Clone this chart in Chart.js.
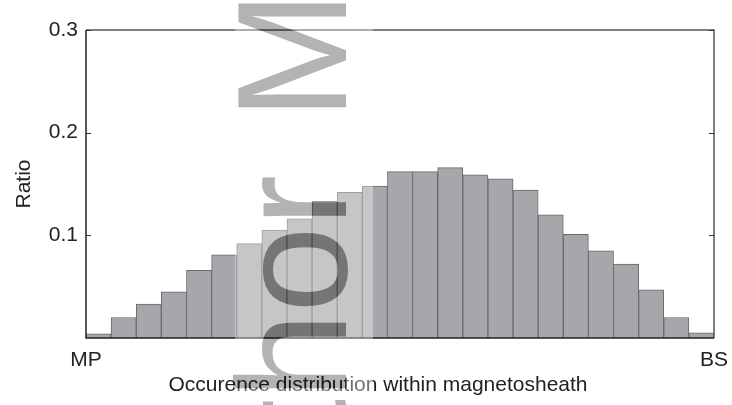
<!DOCTYPE html>
<html>
<head>
<meta charset="utf-8">
<script src="https://cdn.jsdelivr.net/npm/chart.js@4.4.1/dist/chart.umd.min.js"></script>
<style>
  html, body { margin: 0; padding: 0; background: #fff; }
  canvas { display: block; }
</style>
</head>
<body>
<canvas id="hist" width="732" height="405"></canvas>
<script>
// 25 bins from magnetopause (MP) to bow shock (BS)
const binLabels = ["1", "2", "3", "4", "5", "6", "7", "8", "9", "10", "11", "12", "13",
    "14", "15", "16", "17", "18", "19", "20", "21", "22", "23", "24", "25"];
const ratioValues = [0.004, 0.020, 0.033, 0.045, 0.066, 0.081, 0.092, 0.105, 0.116, 0.133,
    0.142, 0.148, 0.162, 0.162, 0.166, 0.159, 0.155, 0.144, 0.120, 0.101, 0.085, 0.072,
    0.047, 0.020, 0.005];
const edgeLabels = ["MP", "BS"];
const yTickValues = [0.1, 0.2, 0.3];
const xTitle = "Occurence distribution within magnetosheath";
const yTitle = "Ratio";

const FONT = "Liberation Sans";

// watermark: "Author Manuscript" running up the page, lightens what it crosses
function drawMark(c, color) {
    c.save();
    c.fillStyle = color;
    c.font = `155px "${FONT}"`;
    c.textBaseline = "alphabetic";
    c.translate(346, 0);
    c.rotate(-Math.PI / 2);
    c.textAlign = "right";
    c.fillText("Author", -175, 0);
    c.textAlign = "left";
    c.fillText("Manuscript", -120, 0);
    c.restore();
}

const framePlugin = {
    id: "frame",
    afterDatasetsDraw(chart) {
        const { ctx, chartArea: a, scales } = chart;
        ctx.save();
        ctx.lineWidth = 1.5;
        ctx.strokeStyle = "#555";
        ctx.beginPath();
        ctx.moveTo(a.left, a.top);
        ctx.lineTo(a.right, a.top);
        ctx.lineTo(a.right, a.bottom);
        ctx.stroke();
        ctx.strokeStyle = "#222";
        ctx.beginPath();
        ctx.moveTo(a.left, a.top);
        ctx.lineTo(a.left, a.bottom);
        ctx.lineTo(a.right, a.bottom);
        ctx.stroke();
        // inward ticks on both sides
        ctx.lineWidth = 1;
        ctx.strokeStyle = "#333";
        yTickValues.forEach(v => {
            const y = Math.round(scales.y.getPixelForValue(v)) + 0.5;
            ctx.beginPath();
            ctx.moveTo(a.left, y); ctx.lineTo(a.left + 5, y);
            ctx.moveTo(a.right, y); ctx.lineTo(a.right - 5, y);
            ctx.stroke();
        });
        ctx.restore();
    },
    afterDraw(chart) {
        const ctx = chart.ctx;
        ctx.save();
        ctx.font = `21px "${FONT}"`;
        ctx.fillStyle = "#222";
        ctx.textAlign = "center";
        ctx.textBaseline = "middle";
        ctx.fillText(xTitle, 378, 385);
        ctx.restore();

        const band = document.createElement("canvas");
        band.width = chart.width;
        band.height = chart.height;
        const b = band.getContext("2d");
        b.fillStyle = "rgba(255,255,255,0.36)";
        b.fillRect(235, 0, 138, chart.height);
        b.globalCompositeOperation = "destination-out";
        drawMark(b, "#000");
        ctx.drawImage(band, 0, 0);

        ctx.save();
        ctx.globalCompositeOperation = "multiply";
        drawMark(ctx, "#b3b3b3");
        ctx.restore();
    }
};

new Chart(document.getElementById("hist"), {
    type: "bar",
    data: {
        labels: binLabels,
        datasets: [{
            xAxisID: "x",
            data: ratioValues,
            backgroundColor: "#a7a7ab",
            borderColor: "#696969",
            borderWidth: 1,
            barPercentage: 1,
            categoryPercentage: 1
        }]
    },
    options: {
        responsive: false,
        animation: false,
        devicePixelRatio: 1,
        layout: { padding: { left: 0, right: 18, top: 30, bottom: 0 } },
        plugins: { legend: { display: false }, tooltip: { enabled: false } },
        scales: {
            x: { display: false },
            xe: {
                type: "linear",
                position: "bottom",
                min: 0,
                max: 1,
                offset: false,
                afterBuildTicks: s => { s.ticks = [{ value: 0 }, { value: 1 }]; },
                afterFit: s => {
                    s.height = 67;
                    s.paddingLeft = 0;
                    s.paddingRight = 0;
                },
                grid: { display: false, drawTicks: false, offset: false },
                border: { display: false },
                ticks: {
                    autoSkip: false,
                    maxRotation: 0,
                    padding: 10,
                    color: "#222",
                    font: { family: FONT, size: 21 },
                    callback: (v, i) => edgeLabels[i]
                }
            },
            y: {
                min: 0,
                max: 0.3,
                afterBuildTicks: s => { s.ticks = yTickValues.map(v => ({ value: v })); },
                afterFit: s => {
                    s.width = 86;
                    s.paddingTop = 0;
                    s.paddingBottom = 0;
                },
                grid: { display: false, drawTicks: false },
                border: { display: false },
                ticks: {
                    padding: 8,
                    color: "#222",
                    font: { family: FONT, size: 21 },
                    callback: v => v.toFixed(1)
                },
                title: {
                    display: true,
                    text: yTitle,
                    color: "#222",
                    padding: { top: 12, bottom: 0 },
                    font: { family: FONT, size: 21 }
                }
            }
        }
    },
    plugins: [framePlugin]
});
</script>
</body>
</html>
